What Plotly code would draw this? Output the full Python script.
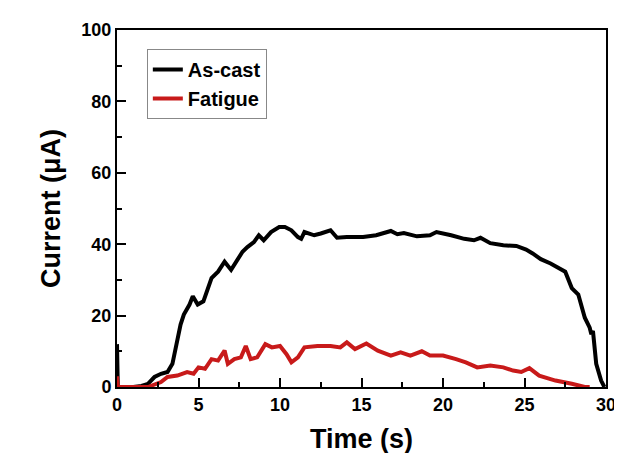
import plotly.graph_objects as go

# As-cast current trace
ascast_t = [0.0, 0.05, 1.0, 1.5, 1.9, 2.3, 2.7, 3.1, 3.4, 3.6, 3.8, 3.9, 4.1, 4.45, 4.65,
            4.95, 5.3, 5.6, 5.8, 6.2, 6.6, 7.0, 7.3, 7.7, 8.0, 8.4, 8.7, 9.0, 9.45,
            9.95, 10.3, 10.7, 11.1, 11.3, 11.5, 12.1, 12.5, 13.1, 13.5, 14.1, 15.1,
            15.9, 16.8, 17.2, 17.6, 18.4, 19.2, 19.6, 20.5, 21.3, 21.9, 22.3, 22.9,
            23.7, 24.5, 25.1, 25.5, 26.0, 26.6, 27.5, 27.9, 28.3, 28.7, 29.0, 29.1,
            29.2, 29.4, 29.7, 29.9]
ascast_i = [12.0, 0.0, 0.0, 0.3, 0.9, 2.8, 3.7, 4.2, 6.5, 11.1, 14.8, 17.5, 20.3, 23.1, 25.4,
            23.1, 24.0, 27.7, 30.5, 32.3, 35.1, 32.8, 35.1, 37.9, 39.2, 40.6, 42.5, 41.1, 43.4,
            44.8, 44.8, 43.9, 42.0, 41.5, 43.4, 42.5, 43.0, 43.9, 41.8, 42.0, 42.0,
            42.5, 43.7, 42.8, 43.1, 42.2, 42.5, 43.4, 42.5, 41.5, 41.1, 41.8, 40.3,
            39.7, 39.5, 38.5, 37.4, 35.8, 34.6, 32.3, 27.7, 25.9, 19.4, 16.6, 14.8,
            15.7, 6.5, 1.8, 0.0]

# Fatigue current trace
fatigue_t = [0.0, 0.05, 1.0, 1.9, 2.7, 3.1, 3.7, 4.3, 4.7, 5.0, 5.4, 5.8, 6.2, 6.6, 6.8,
             7.2, 7.6, 7.9, 8.2, 8.6, 9.1, 9.5, 10.0, 10.4, 10.7, 11.1, 11.5, 12.3,
             13.1, 13.7, 14.1, 14.6, 15.3, 16.0, 16.8, 17.4, 18.0, 18.7, 19.2, 20.0,
             20.8, 21.4, 22.1, 22.9, 23.7, 24.3, 24.8, 25.3, 25.9, 26.9, 27.9, 28.7, 29.0]
fatigue_i = [3.0, 0.0, 0.0, 0.0, 1.4, 2.8, 3.2, 4.2, 3.7, 5.5, 5.1, 7.8, 7.4, 10.2, 6.5,
             7.8, 8.3, 11.5, 7.8, 8.3, 12.0, 11.1, 11.5, 9.2, 6.9, 8.3, 11.1, 11.5,
             11.5, 11.1, 12.5, 10.6, 12.2, 10.2, 8.8, 9.7, 8.8, 10.0, 8.8, 8.8,
             7.8, 6.9, 5.5, 6.0, 5.5, 4.6, 4.2, 5.3, 3.2, 1.8, 0.9, 0.0, 0.0]

font = "Arial, Liberation Sans, sans-serif"

fig = go.Figure()
fig.add_trace(go.Scatter(x=ascast_t, y=ascast_i, mode="lines", name="As-cast",
                         line=dict(color="black", width=4)))
fig.add_trace(go.Scatter(x=fatigue_t, y=fatigue_i, mode="lines", name="Fatigue",
                         line=dict(color="#c81a1a", width=4)))

axis_common = dict(
    showline=True, linecolor="black", linewidth=2, mirror=True,
    ticks="inside", ticklen=9, tickwidth=2, tickcolor="black",
    showgrid=False, zeroline=False,
    tickfont=dict(family=font, size=18, color="black", weight="bold"),
    minor=dict(ticks="inside", ticklen=5, tickwidth=1.5, tickcolor="black"),
)

fig.update_xaxes(range=[0, 30], tick0=0, dtick=5, minor_dtick=2.5,
                 title=dict(text="Time (s)", standoff=16,
                            font=dict(family=font, size=27, color="black", weight="bold")),
                 **axis_common)
fig.update_yaxes(range=[0, 100], tick0=0, dtick=20, minor_dtick=10,
                 title=dict(text="Current (μA)", standoff=13,
                            font=dict(family=font, size=27, color="black", weight="bold")),
                 **axis_common)

fig.update_layout(
    width=622, height=453,
    margin=dict(l=109, r=24, t=19, b=73),
    plot_bgcolor="white", paper_bgcolor="white",
    legend=dict(x=0.061, y=0.947, xanchor="left", yanchor="top",
                bordercolor="#888888", borderwidth=1, bgcolor="white",
                font=dict(family=font, size=20, color="black", weight="bold"),
                tracegroupgap=0),
)

fig.write_html("out.html")
